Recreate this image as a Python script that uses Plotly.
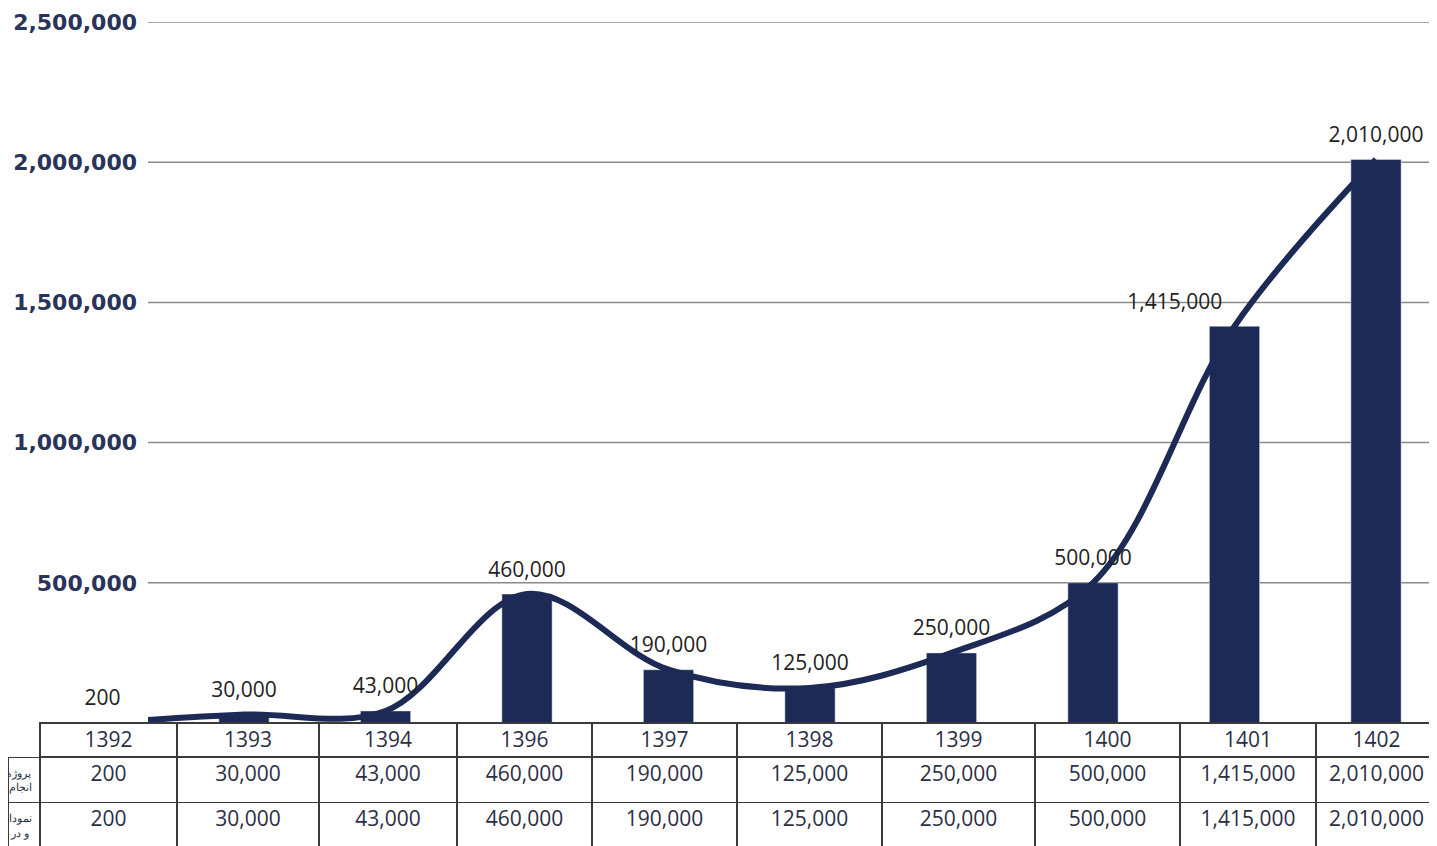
import plotly.graph_objects as go

years = ["1392", "1393", "1394", "1396", "1397", "1398", "1399", "1400", "1401", "1402"]
values = [200, 30000, 43000, 460000, 190000, 125000, 250000, 500000, 1415000, 2010000]
table_row2 = values
table_row3 = values
row_labels = ["پروژه های<br>انجام شده", "نمودار پروژه ها<br>و در حال انجام"]
y_ticks = [500000, 1000000, 1500000, 2000000, 2500000]
y_tick_text = ["500,000", "1,000,000", "1,500,000", "2,000,000", "2,500,000"]

NAVY = "#1c2a55"
W, H = 1429, 838  # page body adds an 8px offset
STEP = 141.5      # px per category
C0 = 94.5         # px centre of first category
TABLE_H = 123     # px height of the table block

def fmt(v):
    return "{:,}".format(v)

fig = go.Figure()

fig.add_trace(go.Bar(
    x=years, y=values, marker_color=NAVY, width=0.355, showlegend=False,
))
fig.add_trace(go.Scatter(
    x=years, y=values, mode="lines",
    line=dict(color=NAVY, width=6, shape="spline", smoothing=1.0),
    showlegend=False,
))
# value labels on a second x axis with identical px mapping but wider domain
label_pos = ["top center"] * 8 + ["top left", "top center"]
fig.add_trace(go.Scatter(
    x=years, y=values, mode="markers+text", text=[fmt(v) for v in values],
    textposition=label_pos, cliponaxis=False,
    marker=dict(size=18, color="rgba(0,0,0,0)"),
    textfont=dict(family="Open Sans", size=21, color="#222222"),
    xaxis="x2", yaxis="y", showlegend=False, hoverinfo="skip",
))

# gridlines
for t in y_ticks:
    fig.add_shape(type="line", xref="x domain", yref="y", x0=0, x1=1, y0=t, y1=t,
                  line=dict(color="#8a8a8a", width=1.5), layer="below")

cell_vals = [row_labels] + [[fmt(a), fmt(b)] for a, b in zip(table_row2, table_row3)]
colw = [32, 137, 142, 138, 135, 145, 145, 153, 145, 136, 121]
fig.add_trace(go.Table(
    domain=dict(x=[0, 1], y=[0, TABLE_H / H]),
    columnwidth=colw,
    header=dict(values=[""] + years, height=34, align="center",
                fill_color="white",
                line=dict(color=["rgba(0,0,0,0)"] + ["#3a3a3a"] * 10, width=1.5),
                font=dict(family="Open Sans", size=21, color="#2b2f45")),
    cells=dict(values=cell_vals, height=44, align=["right"] + ["center"] * 10,
               fill_color="white", line=dict(color="#3a3a3a", width=1.5),
               font=dict(family="Open Sans", size=[11] + [21] * 10, color="#2b2f45")),
))

x_left = 140.0
x2_left = 32.0
fig.update_layout(
    width=W, height=H,
    margin=dict(l=0, r=0, t=0, b=0),
    paper_bgcolor="white", plot_bgcolor="rgba(0,0,0,0)",
    xaxis=dict(type="category", domain=[x_left / W, 1],
               range=[(x_left - C0) / STEP, (W - C0) / STEP],
               showticklabels=False, showgrid=False, zeroline=False, showline=False,
               ticks=""),
    xaxis2=dict(type="category", anchor="y", domain=[x2_left / W, 1],
                range=[(x2_left - C0) / STEP, (W - C0) / STEP], visible=False,
                showgrid=False, zeroline=False,
                categoryarray=years, categoryorder="array"),
    yaxis=dict(domain=[TABLE_H / H, (H - 14) / H], range=[0, 2500000],
               tickvals=y_ticks, ticktext=y_tick_text, showgrid=False, zeroline=False,
               showline=False, ticks="", automargin=False, ticklabelstandoff=10,
               tickfont=dict(family="DejaVu Sans", size=22, color="#2a3358", weight="bold")),
)

fig.write_html("out.html")
